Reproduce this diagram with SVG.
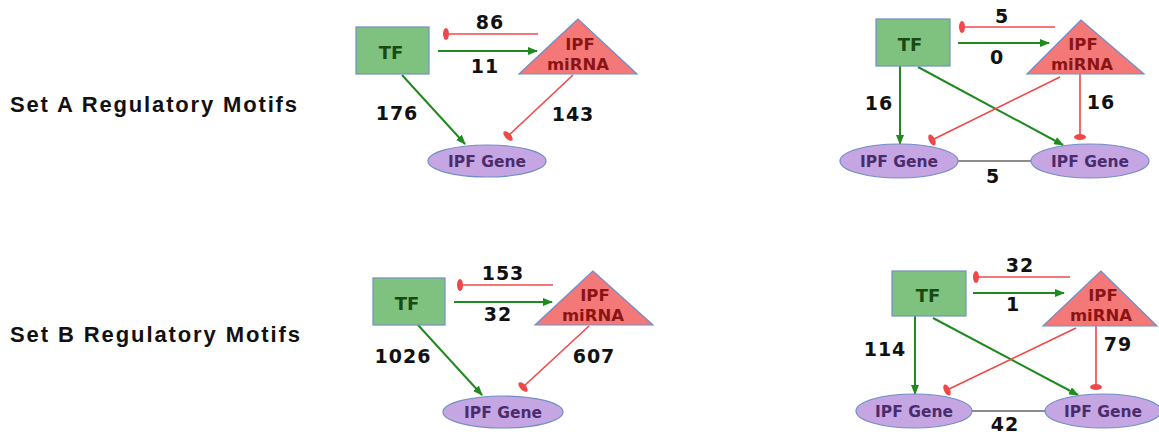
<svg xmlns="http://www.w3.org/2000/svg" width="1159" height="434" viewBox="0 0 1159 434">
<defs>
<marker id="arr" markerUnits="userSpaceOnUse" markerWidth="10" markerHeight="8" refX="9" refY="4" orient="auto" viewBox="0 0 10 8"><path d="M0,0 L10,4 L0,8 z" fill="#1f8a1f"/></marker>
<marker id="tbar" markerUnits="userSpaceOnUse" markerWidth="7" markerHeight="13" refX="3.5" refY="6.5" orient="auto" viewBox="0 0 7 13"><ellipse cx="3.5" cy="6.5" rx="3" ry="6" fill="#f04848"/></marker>
<style>
.tf{fill:#7fc27f;stroke:#6f8fc6;stroke-width:1.2}
.mi{fill:#f47878;stroke:#6f8fc6;stroke-width:1.2}
.ge{fill:#c6a6e2;stroke:#6f8fc6;stroke-width:1.2}
.act{stroke:#1f8a1f;stroke-width:2;fill:none;marker-end:url(#arr)}
.inh{stroke:#f04848;stroke-width:1.6;fill:none;marker-end:url(#tbar)}
.lnk{stroke:#666;stroke-width:1.3}
.tft{font-family:"DejaVu Sans",Verdana,sans-serif;font-weight:bold;font-size:18px;fill:#1a4a14;text-anchor:middle}
.mit{font-family:"DejaVu Sans",Verdana,sans-serif;font-weight:bold;font-size:16.5px;fill:#8a1414;text-anchor:middle}
.get{font-family:"DejaVu Sans",Verdana,sans-serif;font-weight:bold;font-size:15.5px;fill:#4a2c6e;text-anchor:middle}
.num{font-family:"DejaVu Sans",Verdana,sans-serif;font-weight:bold;font-size:19px;fill:#111;text-anchor:middle;letter-spacing:1px}
.ttl{font-family:"Liberation Sans",Arial,sans-serif;font-weight:bold;font-size:22px;fill:#111}
</style>
</defs>

<text class="ttl" x="10" y="112" textLength="287" lengthAdjust="spacing">Set A Regulatory Motifs</text>
<text class="ttl" x="10" y="342" textLength="290" lengthAdjust="spacing">Set B Regulatory Motifs</text>

<g id="connectors">
<!-- A1 -->
<line class="inh" x1="538" y1="34" x2="446" y2="34"/>
<line class="act" x1="438" y1="51" x2="537" y2="51"/>
<line class="act" x1="402" y1="75" x2="465" y2="144"/>
<line class="inh" x1="573" y1="75" x2="508" y2="136"/>
<!-- A2 -->
<line class="inh" x1="1055" y1="27" x2="962" y2="27"/>
<line class="act" x1="958" y1="43" x2="1049" y2="43"/>
<line class="act" x1="900" y1="66" x2="900" y2="144"/>
<line class="act" x1="918" y1="67" x2="1063" y2="145"/>
<line class="inh" x1="1060" y1="77" x2="932" y2="140"/>
<line class="inh" x1="1080" y1="74" x2="1080" y2="137"/>
<line class="lnk" x1="958" y1="161" x2="1031" y2="161"/>
<!-- B1 -->
<line class="inh" x1="553" y1="285" x2="460" y2="285"/>
<line class="act" x1="454" y1="302" x2="552" y2="302"/>
<line class="act" x1="418" y1="325" x2="482" y2="395"/>
<line class="inh" x1="589" y1="326" x2="523" y2="387"/>
<!-- B2 -->
<line class="inh" x1="1070" y1="277" x2="976" y2="277"/>
<line class="act" x1="973" y1="293" x2="1064" y2="293"/>
<line class="act" x1="915" y1="316" x2="915" y2="394"/>
<line class="act" x1="933" y1="318" x2="1078" y2="395"/>
<line class="inh" x1="1076" y1="328" x2="947" y2="390"/>
<line class="inh" x1="1096" y1="326" x2="1096" y2="387"/>
<line class="lnk" x1="972" y1="411" x2="1045" y2="411"/>
</g>

<g id="labels">
<text class="num" x="490" y="29">86</text>
<text class="num" x="485" y="73">11</text>
<text class="num" x="397" y="120">176</text>
<text class="num" x="573" y="121">143</text>
<text class="num" x="1002" y="23">5</text>
<text class="num" x="997" y="64">0</text>
<text class="num" x="879" y="110">16</text>
<text class="num" x="1101" y="109">16</text>
<text class="num" x="993" y="183">5</text>
<text class="num" x="503" y="280">153</text>
<text class="num" x="498" y="321">32</text>
<text class="num" x="403" y="363">1026</text>
<text class="num" x="594" y="363">607</text>
<text class="num" x="1020" y="272">32</text>
<text class="num" x="1013" y="311">1</text>
<text class="num" x="885" y="356">114</text>
<text class="num" x="1118" y="351">79</text>
<text class="num" x="1005" y="431">42</text>
</g>

<g id="A-TF"><rect class="tf" x="356" y="27" width="73" height="47"/><text class="tft" x="391" y="59">TF</text></g>
<g id="A-miRNA"><polygon class="mi" points="578,19 519,74 637,74"/><text class="mit" x="580" y="50">IPF</text><text class="mit" x="578" y="70">miRNA</text></g>
<g id="A-Gene"><ellipse class="ge" cx="487" cy="161" rx="59" ry="16"/><text class="get" x="487" y="167">IPF Gene</text></g>

<g id="A2-TF"><rect class="tf" x="876" y="19" width="74" height="47"/><text class="tft" x="910" y="51">TF</text></g>
<g id="A2-miRNA"><polygon class="mi" points="1081,20 1027,74 1144,74"/><text class="mit" x="1083" y="50">IPF</text><text class="mit" x="1082" y="70">miRNA</text></g>
<g id="A2-Gene1"><ellipse class="ge" cx="899" cy="161" rx="59" ry="17"/><text class="get" x="899" y="167">IPF Gene</text></g>
<g id="A2-Gene2"><ellipse class="ge" cx="1090" cy="161" rx="59" ry="17"/><text class="get" x="1090" y="167">IPF Gene</text></g>

<g id="B-TF"><rect class="tf" x="373" y="278" width="72" height="47"/><text class="tft" x="407" y="310">TF</text></g>
<g id="B-miRNA"><polygon class="mi" points="593,271 535,325 653,325"/><text class="mit" x="595" y="301">IPF</text><text class="mit" x="593" y="321">miRNA</text></g>
<g id="B-Gene"><ellipse class="ge" cx="503" cy="412" rx="60" ry="16"/><text class="get" x="503" y="418">IPF Gene</text></g>

<g id="B2-TF"><rect class="tf" x="892" y="271" width="74" height="45"/><text class="tft" x="928" y="302">TF</text></g>
<g id="B2-miRNA"><polygon class="mi" points="1101,271 1043,326 1157,326"/><text class="mit" x="1103" y="301">IPF</text><text class="mit" x="1101" y="321">miRNA</text></g>
<g id="B2-Gene1"><ellipse class="ge" cx="914" cy="411" rx="58" ry="17"/><text class="get" x="914" y="417">IPF Gene</text></g>
<g id="B2-Gene2"><ellipse class="ge" cx="1103" cy="411" rx="58" ry="17"/><text class="get" x="1103" y="417">IPF Gene</text></g>
</svg>
